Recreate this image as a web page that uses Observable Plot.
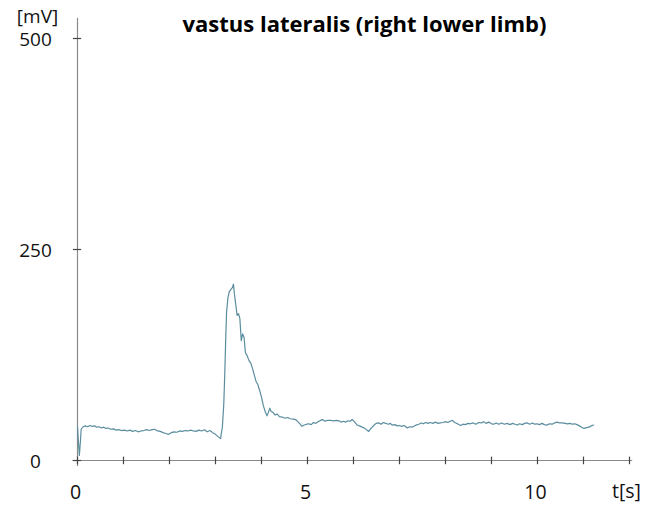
<!DOCTYPE html>
<html>
<head>
<meta charset="utf-8">
<script src="https://cdn.jsdelivr.net/npm/d3@7"></script>
<script src="https://cdn.jsdelivr.net/npm/@observablehq/plot@0.6"></script>
<style>
  html, body { margin: 0; padding: 0; background: #fff; }
  #chart svg { display: block; }
</style>
</head>
<body>
<div id="chart"></div>
<script>
// time [s]
const times = [
  0, 0.02, 0.04, 0.06, 0.08, 0.12, 0.17, 0.22, 0.27, 0.32, 0.37, 0.42, 0.47, 0.52, 0.57, 0.62, 0.67, 0.72, 0.78, 0.84,
  0.9, 0.96, 1.02, 1.08, 1.14, 1.2, 1.26, 1.32, 1.38, 1.44, 1.5, 1.56, 1.62, 1.68, 1.74, 1.8, 1.86, 1.92, 1.98, 2.04,
  2.1, 2.16, 2.22, 2.28, 2.34, 2.4, 2.46, 2.52, 2.58, 2.64, 2.7, 2.76, 2.82, 2.88, 2.94, 3.0, 3.06, 3.11, 3.15, 3.18,
  3.2, 3.22, 3.24, 3.27, 3.3, 3.34, 3.37, 3.39, 3.41, 3.44, 3.47, 3.5, 3.53, 3.56, 3.59, 3.62, 3.65, 3.69, 3.73, 3.77,
  3.81, 3.85, 3.88, 3.92, 3.96, 4.0, 4.04, 4.08, 4.12, 4.15, 4.18, 4.21, 4.25, 4.29, 4.34, 4.39, 4.45, 4.51, 4.57, 4.63,
  4.69, 4.74, 4.79, 4.84, 4.88, 4.93, 4.98, 5.03, 5.08, 5.13, 5.18, 5.23, 5.28, 5.33, 5.38, 5.43, 5.5, 5.57, 5.63, 5.68,
  5.73, 5.78, 5.83, 5.88, 5.93, 5.97, 6.02, 6.08, 6.13, 6.19, 6.25, 6.29, 6.33, 6.38, 6.44, 6.49, 6.55, 6.6, 6.65, 6.7,
  6.76, 6.8, 6.84, 6.9, 6.95, 7.0, 7.05, 7.1, 7.17, 7.22, 7.27, 7.31, 7.36, 7.42, 7.47, 7.52, 7.57, 7.62, 7.67, 7.73,
  7.78, 7.84, 7.89, 7.95, 8.0, 8.05, 8.1, 8.15, 8.2, 8.26, 8.33, 8.38, 8.43, 8.49, 8.54, 8.6, 8.66, 8.72, 8.78, 8.83,
  8.88, 8.94, 9.0, 9.05, 9.1, 9.16, 9.22, 9.28, 9.34, 9.4, 9.46, 9.51, 9.56, 9.61, 9.67, 9.72, 9.78, 9.83, 9.89, 9.94,
  9.99, 10.04, 10.1, 10.15, 10.21, 10.26, 10.32, 10.37, 10.43, 10.48, 10.54, 10.6, 10.65, 10.7, 10.76, 10.81, 10.86, 10.91, 10.96, 11.01,
  11.07, 11.12, 11.17, 11.22
];
// EMG amplitude [mV]
const values = [
  40, 22, 6, 20, 37, 40, 41, 40, 41.5, 40.5, 41, 39.5, 40, 38.5, 39.5, 38, 38.5, 37, 37.5, 36,
  36.5, 35.5, 36, 35, 36, 34.5, 35.5, 34, 35, 35.5, 36.5, 35.5, 36.5, 37, 35, 34.5, 33, 32, 31, 33,
  34, 33.5, 35, 34.5, 35.5, 35, 36, 35, 34.5, 36, 35, 36.5, 34, 35.5, 33, 31, 28, 26, 40, 67,
  100, 140, 175, 193, 200, 203, 205, 209, 198, 185, 172, 174, 168, 142, 150, 146, 128, 124, 118, 115,
  108, 100, 94, 90, 83, 75, 65, 58, 53, 57, 62, 58, 57, 54, 55, 52, 51.5, 50, 51, 49.5,
  49, 48.5, 46, 43, 40.5, 42, 43, 43.5, 42.5, 45, 44, 46, 47.5, 48.5, 46.5, 47.5, 47.5, 47, 47.5, 47,
  45.5, 46.5, 45.5, 47, 46.5, 48.5, 46, 42, 41, 39.5, 38, 36, 34.5, 38, 41.5, 44, 44.5, 43, 45, 44,
  43, 44, 42, 42.5, 41, 41.5, 40.5, 41.5, 38.5, 40, 39.5, 40.5, 42, 43, 44.5, 43.5, 45, 44, 45, 44,
  45.5, 44, 44.5, 45, 46, 45, 46.5, 47.5, 45, 43.5, 41.5, 43, 42.5, 44, 43.5, 44.5, 43, 45, 44.5, 46,
  44, 45.5, 43.5, 43, 44.5, 43, 44.5, 43, 44, 42.5, 44, 43, 42, 43.5, 42.5, 44, 44.5, 43, 44.5, 43,
  43.5, 42.5, 44, 42.5, 42, 43.5, 43, 44.5, 45.5, 44.5, 44.5, 44, 43.5, 44, 43, 43.5, 42.5, 41, 39.5, 38,
  39, 39.5, 41, 42
];
const xTicks = [0, 1, 2, 3, 4, 5, 6, 7, 8, 9, 10, 11, 12];
const xTickLabels = [0, 5, 10];
const yTickLabels = [0, 250, 500];
const title = "vastus lateralis (right lower limb)";
const yUnit = "[mV]";
const xUnit = "t[s]";

const data = times.map((t, i) => ({t, v: values[i]}));
const axisColor = "#8a8a8a";
const font = "'Open Sans', sans-serif";

const chart = Plot.plot({
  width: 657,
  height: 508,
  marginLeft: 77,
  marginRight: 28,
  marginTop: 38,
  marginBottom: 48,
  style: {fontFamily: font, background: "#fff"},
  x: {domain: [0, 12], axis: null},
  y: {domain: [0, 500], axis: null},
  marks: [
    // axis lines
    Plot.ruleY([0], {x1: -0.1, x2: 12.07, stroke: axisColor, strokeWidth: 1.2}),
    Plot.ruleX([0], {y1: -7, y2: 524, stroke: axisColor, strokeWidth: 1.2}),
    // ticks crossing the axes
    Plot.ruleX(xTicks, {x: d => d, y1: -5, y2: 4, stroke: "#444", strokeWidth: 1.2}),
    Plot.ruleY(yTickLabels, {y: d => d, x1: -0.09, x2: 0.09, stroke: "#444", strokeWidth: 1.2}),
    // tick labels
    Plot.text(xTickLabels, {x: d => d, text: d => String(d), frameAnchor: "bottom", dx: -2, dy: 32, lineAnchor: "middle", fontSize: 19.5, fill: "#111"}),
    Plot.text(yTickLabels, {y: d => d, text: d => String(d), frameAnchor: "left", dx: -42, dy: 1.5, textAnchor: "middle", lineAnchor: "middle", fontSize: 19, fill: "#111"}),
    // unit labels
    Plot.text([yUnit], {frameAnchor: "top-left", dx: -40, dy: -22, textAnchor: "middle", lineAnchor: "middle", fontSize: 19, fill: "#111"}),
    Plot.text([xUnit], {frameAnchor: "bottom-right", dx: -3, dy: 31, textAnchor: "middle", lineAnchor: "middle", fontSize: 19.5, fill: "#111"}),
    // title
    Plot.text([title], {frameAnchor: "top", dx: 11, dy: -14, textAnchor: "middle", lineAnchor: "middle", fontSize: 22, fontWeight: "bold", fill: "#000"}),
    // signal
    Plot.line(data, {x: "t", y: "v", stroke: "#5a8d9e", strokeWidth: 1.2})
  ]
});
document.getElementById("chart").appendChild(chart);
</script>
</body>
</html>
